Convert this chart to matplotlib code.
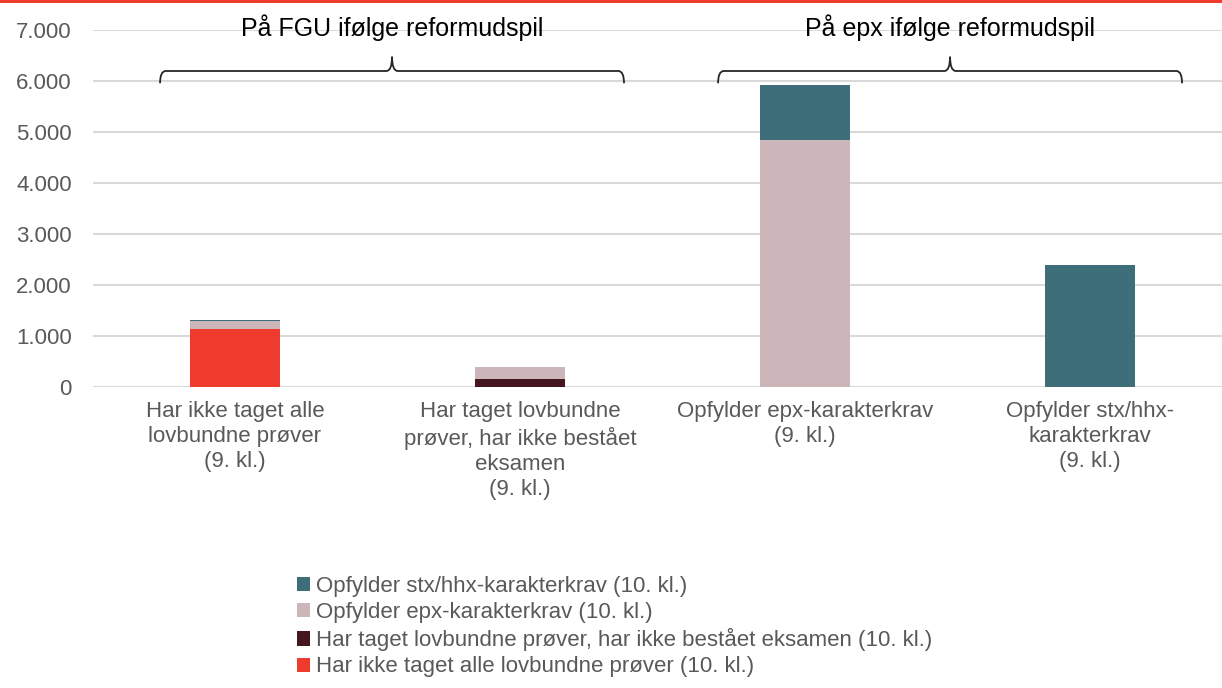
import matplotlib
matplotlib.use("Agg")
import matplotlib.pyplot as plt
from matplotlib.path import Path
from matplotlib.patches import PathPatch, Rectangle
from matplotlib.ticker import FuncFormatter

plt.rcParams["font.family"] = ["Liberation Sans", "DejaVu Sans"]

# -- Donnees ------------------------------------------------------------------
categories = [
    "Har ikke taget alle\nlovbundne prøver\n(9. kl.)",
    "Har taget lovbundne\nprøver, har ikke bestået\neksamen\n(9. kl.)",
    "Opfylder epx-karakterkrav\n(9. kl.)",
    "Opfylder stx/hhx-\nkarakterkrav\n(9. kl.)",
]
ikke_taget = [1130, 0, 0, 0]
ikke_bestaaet = [0, 150, 0, 0]
epx_krav = [160, 245, 4840, 0]
stx_krav = [15, 0, 1085, 2390]

series = [
    ("Har ikke taget alle lovbundne prøver (10. kl.)", ikke_taget, "#EE3B2E"),
    ("Har taget lovbundne prøver, har ikke bestået eksamen (10. kl.)", ikke_bestaaet, "#44161F"),
    ("Opfylder epx-karakterkrav (10. kl.)", epx_krav, "#CDB6B9"),
    ("Opfylder stx/hhx-karakterkrav (10. kl.)", stx_krav, "#3D6E7A"),
]

groups = ["På FGU ifølge reformudspil", "På epx ifølge reformudspil"]
group_spans = [(-0.263, 1.365), (1.695, 3.323)]

GRAY = "#595959"
FS = 16

# -- Figure -------------------------------------------------------------------
W, H = 1222, 688
fig = plt.figure(figsize=(W / 100, H / 100), dpi=100)
ax = fig.add_axes([92.5 / W, 1 - 387 / H, (W - 92.5) / W, (387 - 30) / H])

x = list(range(len(categories)))
bottom = [0] * len(categories)
handles = []
for label, vals, color in series:
    b = ax.bar(x, vals, width=0.316, bottom=bottom, color=color, linewidth=0, label=label, zorder=2)
    handles.append(b)
    bottom = [bt + v for bt, v in zip(bottom, vals)]

ax.set_xlim(-0.5, -0.5 + (W - 92.5) / 285)
ax.set_ylim(0, 7000)
ax.set_yticks(range(0, 7001, 1000))
ax.yaxis.set_major_formatter(FuncFormatter(lambda v, p: f"{int(v):,}".replace(",", ".")))
ax.grid(axis="y", color="#D9D9D9", linewidth=1.5, zorder=0)
ax.set_axisbelow(True)
for s in ax.spines.values():
    s.set_visible(False)
ax.tick_params(axis="both", length=0, labelsize=FS, colors=GRAY)
ax.tick_params(axis="y", pad=15)
ax.tick_params(axis="x", pad=10)
ax.set_xticks(x)
ax.set_xticklabels(categories, linespacing=1.26)

# -- Accolades et titres de groupe --------------------------------------------
y_end, y_bar, y_tip = 5955, 6196, 6476
r = 0.02
for (x0, x1), title in zip(group_spans, groups):
    xm = (x0 + x1) / 2
    verts = [
        (x0, y_end), (x0, y_bar), (x0 + r, y_bar),
        (xm - r, y_bar), (xm, y_bar), (xm, y_tip),
        (xm, y_bar), (xm + r, y_bar),
        (x1 - r, y_bar), (x1, y_bar), (x1, y_end),
    ]
    codes = [Path.MOVETO, Path.CURVE3, Path.CURVE3,
             Path.LINETO, Path.CURVE3, Path.CURVE3,
             Path.CURVE3, Path.CURVE3,
             Path.LINETO, Path.CURVE3, Path.CURVE3]
    ax.add_patch(PathPatch(Path(verts, codes), fill=False, edgecolor="#262626", linewidth=1.3, zorder=3))
    ax.text(xm, 7040, title, ha="center", va="center", fontsize=18, color="black", zorder=3)

# -- Legende ------------------------------------------------------------------
leg = fig.legend(handles[::-1], [s[0] for s in series][::-1],
                 loc="upper left", bbox_to_anchor=(297 / W, 1 - 576 / H),
                 frameon=False, fontsize=FS, handlelength=0.6, handleheight=0.6,
                 handletextpad=0.25, labelspacing=0.23, borderpad=0, borderaxespad=0)
for t in leg.get_texts():
    t.set_color(GRAY)

# ligne rouge en haut
fig.add_artist(Rectangle((0, 1 - 2.5 / H), 1, 2.5 / H, transform=fig.transFigure,
                         color="#EE3B2E", linewidth=0))

fig.savefig("out.png", dpi=100)
